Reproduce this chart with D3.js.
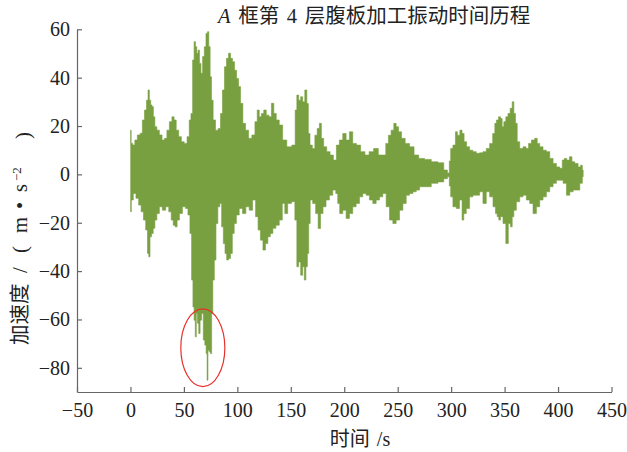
<!DOCTYPE html>
<html>
<head>
<meta charset="utf-8">
<script src="https://cdn.jsdelivr.net/npm/d3@7"></script>
<style>
  body { margin: 0; background: #fff; }
  svg { display: block; }
</style>
</head>
<body>
<svg id="chart" width="627" height="452"></svg>
<script>
// Envelope of the measured acceleration record (upper and lower bounds), s and m/s^2
const upperTime = [0.2,1.1,3.3,4.9,8.0,10.2,12.1,14.2,15.8,17.1,18.3,19.6,20.8,22.1,23.6,25.8,28.3,30.8,33.0,35.2,37.7,39.9,41.7,43.9,46.4,48.9,51.7,54.2,55.8,57.4,58.9,60.2,61.4,62.7,63.9,65.2,66.7,68.3,69.9,71.4,72.7,73.9,75.2,76.4,78.3,80.8,83.3,85.2,87.0,88.9,90.8,92.7,94.5,96.4,98.3,100.2,102.0,103.9,106.4,108.9,112.0,115.2,117.7,119.5,121.4,123.6,125.8,128.3,130.8,133.0,135.2,137.6,140.8,143.9,148.6,153.3,154.9,156.4,158.3,160.2,162.0,164.2,165.8,167.0,168.9,171.4,173.6,175.8,177.7,179.5,182.0,185.2,188.3,191.4,193.9,197.0,200.2,203.3,206.4,209.5,213.3,217.3,221.4,225.1,229.8,233.9,237.6,240.1,242.6,245.1,247.6,249.5,252.0,255.1,258.9,263.3,267.3,272.0,278.3,284.5,290.8,295.4,297.6,299.0,300.1,303.2,304.8,306.9,309.4,311.0,313.2,315.7,318.8,321.9,325.1,328.2,331.3,334.4,337.6,340.1,341.6,343.2,345.4,346.9,348.5,350.1,352.2,354.1,356.3,357.9,359.4,361.0,362.6,365.7,368.8,371.3,373.5,376.6,379.7,381.3,384.4,387.5,390.7,393.8,396.9,400.0,403.2,404.7,406.9,409.4,411.9,414.1,417.2,420.3,421.9,423.5];
const upperAmp = [18.3,12.8,12.1,14.2,16.3,17.0,22.5,26.6,30.7,34.9,30.7,28.7,28.0,23.8,19.7,18.3,16.3,14.2,14.9,18.3,21.8,23.8,22.5,18.3,15.6,13.5,12.8,15.6,22.5,25.2,47.3,54.9,52.8,50.1,51.4,45.9,41.8,48.7,52.8,58.3,59.0,52.8,40.4,30.7,22.5,18.3,19.0,25.2,34.9,44.5,48.0,50.1,48.0,46.6,43.1,39.7,36.3,29.4,21.1,18.3,14.9,16.3,21.8,26.6,23.8,25.2,26.6,24.5,23.8,29.4,25.2,22.5,20.4,14.2,11.4,12.1,26.6,32.8,30.7,32.1,30.0,34.9,29.3,16.9,12.1,10.7,16.2,19.0,21.1,14.9,11.4,9.4,8.0,5.9,12.1,14.2,16.9,14.2,17.6,12.8,12.1,9.4,8.0,9.4,10.7,8.0,8.0,12.8,16.2,18.3,21.1,19.7,17.6,14.9,12.8,11.4,8.0,6.6,6.2,5.2,4.8,1.8,0.6,5.5,10.7,12.1,17.6,16.2,18.3,16.9,13.5,11.4,10.0,9.4,8.7,8.9,9.4,10.7,12.8,16.9,21.1,22.5,23.8,23.1,19.7,21.8,23.8,25.2,27.3,30.0,25.2,21.1,13.5,10.7,11.4,10.7,12.8,14.2,14.9,12.8,11.4,10.0,9.4,6.6,4.5,3.1,2.5,5.9,6.6,5.9,7.3,5.2,4.5,3.1,3.8,1.8];
const lowerTime = [0.2,1.4,3.9,6.4,8.9,11.1,13.3,15.2,16.7,17.7,18.9,20.5,22.1,23.6,25.8,28.3,31.4,34.6,37.1,39.2,40.8,42.7,44.6,47.0,50.2,52.7,54.9,56.4,58.0,58.9,60.2,61.1,62.1,63.3,64.5,65.8,67.4,68.9,70.2,71.4,72.0,73.0,74.2,75.5,76.4,77.7,79.2,80.8,82.7,84.5,86.1,87.7,89.2,90.8,92.7,94.5,96.1,98.0,100.2,103.3,106.4,109.5,112.7,115.8,118.3,120.5,122.7,125.2,127.3,129.8,132.0,134.5,137.6,140.8,143.3,145.5,148.6,152.7,154.9,156.4,158.3,160.2,162.0,163.3,164.9,166.1,167.4,168.9,172.0,174.5,176.7,178.9,181.4,184.5,187.7,190.8,193.3,194.5,197.0,200.2,203.3,206.4,209.5,212.7,215.8,218.9,222.0,225.1,228.3,231.4,234.5,237.6,240.8,243.9,247.0,250.1,253.3,256.4,259.5,262.6,265.8,268.9,272.0,278.3,284.5,290.8,295.4,297.6,299.0,300.1,303.2,306.3,309.4,311.0,312.6,315.7,318.8,321.9,325.1,328.2,331.3,334.4,337.6,340.7,342.3,343.8,345.4,346.9,350.1,352.2,354.7,356.3,357.9,359.4,362.6,365.7,368.8,371.9,375.0,378.2,381.3,384.4,387.5,390.7,393.8,396.9,400.0,403.2,406.3,409.4,412.6,415.7,418.8,421.9,423.5];
const lowerAmp = [-15.5,-10.6,-7.9,-9.9,-12.7,-15.5,-18.9,-23.0,-32.7,-34.1,-25.8,-24.4,-22.3,-18.9,-16.2,-13.4,-14.8,-13.4,-15.5,-18.9,-21.0,-21.7,-18.9,-16.2,-13.4,-14.1,-16.8,-24.4,-43.7,-54.8,-60.3,-67.2,-57.5,-61.6,-65.8,-60.3,-57.5,-68.5,-70.6,-74.1,-85.1,-72.7,-73.4,-74.1,-57.5,-43.7,-35.4,-20.3,-13.4,-12.0,-21.7,-28.6,-32.7,-35.4,-34.8,-32.7,-24.4,-20.3,-16.8,-14.1,-16.2,-13.4,-14.8,-10.6,-17.5,-23.0,-27.2,-31.3,-28.6,-25.8,-24.4,-22.3,-21.0,-18.9,-12.0,-16.2,-12.0,-11.3,-18.9,-38.2,-36.2,-41.7,-38.2,-43.7,-38.2,-32.7,-20.3,-10.6,-12.0,-16.2,-22.4,-16.2,-13.4,-10.6,-8.6,-6.5,-7.9,-12.0,-16.2,-14.8,-18.2,-16.2,-13.4,-12.0,-9.3,-7.9,-8.6,-10.6,-12.0,-10.6,-9.3,-7.9,-13.4,-18.9,-20.3,-18.9,-14.8,-12.0,-8.6,-7.9,-7.2,-6.5,-5.1,-5.1,-3.7,-3.1,-1.8,-1.0,-4.8,-9.3,-13.4,-14.1,-10.6,-18.9,-16.2,-14.1,-9.3,-8.6,-8.6,-7.2,-12.0,-7.2,-9.3,-13.4,-16.2,-17.5,-18.9,-17.5,-20.3,-28.6,-20.3,-21.7,-17.5,-14.8,-11.3,-9.3,-8.6,-10.6,-12.0,-16.2,-13.4,-10.6,-9.3,-7.2,-5.1,-3.7,-2.4,-2.4,-3.7,-8.6,-7.2,-6.5,-6.5,-3.7,-1.0];

const xTicks = [-50, 0, 50, 100, 150, 200, 250, 300, 350, 400, 450];
const yTicks = [-80, -60, -40, -20, 0, 20, 40, 60];

// Marked peak region (centre and half-widths in data units)
const markTime = 67.7, markAmp = -71.7, markHalfTime = 20.6, markHalfAmp = 16.1;

const svg = d3.select("#chart");
const x = d3.scaleLinear().domain([-50, 450]).range([77, 611.5]);
const y = d3.scaleLinear().domain([-90, 60]).range([392, 29.3]);

const serif = "'Liberation Serif', 'Times New Roman', serif";
const cjk = "'Liberation Serif', 'Noto Sans CJK SC', serif";
const axisColor = "#666";
const ink = "#222";

// Signal band: upper bound left-to-right, then lower bound back
const upperPts = upperTime.map((t, i) => [x(t), y(upperAmp[i])]);
const lowerPts = lowerTime.map((t, i) => [x(t), y(lowerAmp[i])]).reverse();
const band = d3.line().curve(d3.curveStep);
svg.append("path")
  .attr("d", band(upperPts.concat(lowerPts)) + "Z")
  .attr("fill", "#78a040")
  .attr("stroke", "#78a040")
  .attr("stroke-width", 0.6)
  .attr("stroke-linejoin", "miter");

// Axes
const xAxis = svg.append("g")
  .attr("transform", `translate(0,${y(-90)})`)
  .call(d3.axisBottom(x).tickValues(xTicks).tickSizeInner(-5).tickSizeOuter(0).tickPadding(11));
const yAxis = svg.append("g")
  .attr("transform", `translate(${x(-50)},0)`)
  .call(d3.axisLeft(y).tickValues(yTicks).tickSizeInner(-5).tickSizeOuter(0).tickPadding(7));

[xAxis, yAxis].forEach(g => {
  g.select(".domain").attr("stroke", axisColor).attr("stroke-width", 1.2);
  g.selectAll(".tick line").attr("stroke", axisColor).attr("stroke-width", 1.2);
  g.selectAll(".tick text")
    .attr("fill", ink)
    .style("font-family", serif)
    .style("font-size", "20px");
});

// Highlight ellipse
svg.append("ellipse")
  .attr("cx", x(markTime))
  .attr("cy", y(markAmp))
  .attr("rx", x(markTime + markHalfTime) - x(markTime))
  .attr("ry", y(markAmp - markHalfAmp) - y(markAmp))
  .attr("fill", "none")
  .attr("stroke", "#e8312b")
  .attr("stroke-width", 1.2);

// Title
const title = svg.append("text")
  .attr("x", 218).attr("y", 23)
  .style("font-family", cjk)
  .style("font-size", "20.5px")
  .style("word-spacing", "2.5px")
  .attr("fill", ink);
title.append("tspan").style("font-style", "italic").text("A");
title.append("tspan").text(" 框第 4 层腹板加工振动时间历程");

// X axis title
svg.append("text")
  .attr("x", 360).attr("y", 446)
  .attr("text-anchor", "middle")
  .style("font-family", cjk)
  .style("font-size", "20px")
  .style("word-spacing", "2px")
  .attr("fill", ink)
  .text("时间 /s");

// Y axis title, rotated, pieces placed along the baseline
const yt = svg.append("text")
  .attr("transform", "translate(27,345) rotate(-90)")
  .style("font-family", cjk)
  .style("font-size", "20.5px")
  .attr("fill", ink);
yt.append("tspan").attr("x", 0).text("加速度");
yt.append("tspan").attr("x", 72).text("/");
yt.append("tspan").attr("x", 92).text("(");
yt.append("tspan").attr("x", 112).text("m");
yt.append("tspan").attr("x", 136).text("•");
yt.append("tspan").attr("x", 153).text("s");
yt.append("tspan").attr("x", 164).attr("dy", "-0.45em").style("font-size", "13px").text("−2");
yt.append("tspan").attr("x", 206).attr("dy", "0.45em").text(")");
</script>
</body>
</html>
